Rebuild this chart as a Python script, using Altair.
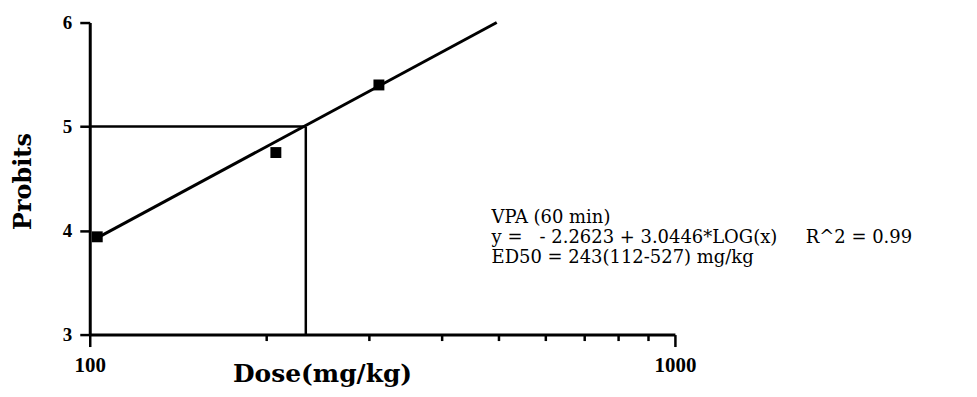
import altair as alt
import pandas as pd

# data
point_dose = [103, 208, 312]
point_probit = [3.94, 4.75, 5.40]
line_dose = [103, 496]
line_probit = [3.93, 6.0]
ed50_dose = 234
ed50_probit = 5
x_ticks = [100, 200, 300, 400, 500, 600, 700, 800, 900, 1000]
y_ticks = [3, 4, 5, 6]
NB = "\u00a0"
note_lines = ["VPA (60 min)",
              "y =" + NB * 3 + "- 2.2623 + 3.0446*LOG(x)" + NB * 5 + "R^2 = 0.99",
              "ED50 = 243(112-527) mg/kg"]
note_dose = 486
note_probit = 4.21

SERIF = "Liberation Serif"
WIDE = "DejaVu Serif"

xscale = alt.Scale(type="log", domain=[100, 1000], nice=False)
yscale = alt.Scale(domain=[3, 6], nice=False, zero=False)

xaxis = alt.Axis(values=x_ticks, title="Dose(mg/kg)",
                 labelExpr="datum.value == 100 || datum.value == 1000 ? format(datum.value, 'd') : ''",
                 grid=False, domainColor="black", domainWidth=3, tickColor="black",
                 tickWidth=2.5,
                 tickSize={"condition": {"test": "datum.value == 100 || datum.value == 1000",
                                         "value": 12}, "value": 6},
                 labelFont=SERIF, labelFontSize=21,
                 labelFontWeight="bold", labelColor="black", labelPadding=8,
                 labelBaseline="top", labelFlush=False,
                 titleFont=WIDE, titleFontSize=25, titleFontWeight="bold",
                 titleColor="black", titleX=233, titleY=47, titleAlign="center",
                 titleBaseline="alphabetic")
yaxis = alt.Axis(values=y_ticks, format="d", title="Probits", grid=False,
                 domainColor="black", domainWidth=3, tickColor="black", tickWidth=2.5,
                 tickSize=10, labelFont=SERIF, labelFontSize=19, labelFontWeight="bold",
                 labelColor="black", labelPadding=8, titleFont=WIDE, titleFontSize=24,
                 titleFontWeight="bold", titleColor="black", titleX=-66, titleY=159,
                 titleAngle=270, titleAlign="center", titleBaseline="middle")

pts = pd.DataFrame({"dose": point_dose, "probit": point_probit})
ln = pd.DataFrame({"dose": line_dose, "probit": line_probit})
ref = pd.DataFrame({"dose": [ed50_dose], "probit": [ed50_probit],
                    "xmin": [x_ticks[0]], "ymin": [y_ticks[0]]})
note = pd.DataFrame({"dose": [note_dose], "probit": [note_probit]})

X = lambda f: alt.X(f, type="quantitative", scale=xscale, axis=xaxis)
Y = lambda f: alt.Y(f, type="quantitative", scale=yscale, axis=yaxis)

hrule = alt.Chart(ref).mark_rule(color="black", strokeWidth=2.5).encode(
    x=X("xmin"), x2="dose:Q", y=Y("probit"))
vrule = alt.Chart(ref).mark_rule(color="black", strokeWidth=2.5).encode(
    x=X("dose"), y=Y("ymin"), y2="probit:Q")
line = alt.Chart(ln).mark_line(color="black", strokeWidth=3).encode(
    x=X("dose"), y=Y("probit"))
points = alt.Chart(pts).mark_point(shape="square", filled=True, color="black",
                                   size=120, opacity=1).encode(
    x=X("dose"), y=Y("probit"))
text = alt.Chart(note).mark_text(align="left", baseline="top", font=WIDE,
                                 fontSize=18, lineHeight=20, color="black").encode(
    x=X("dose"), y=Y("probit"), text=alt.value(note_lines))

chart = alt.layer(hrule, vrule, line, points, text).properties(
    width=587, height=313,
    autosize=alt.AutoSizeParams(type="none"),
    padding={"left": 82, "top": 14, "right": 295, "bottom": 54},
).configure_view(stroke=None)

chart.save("out.html", embed_options={"renderer": "svg", "actions": False})
